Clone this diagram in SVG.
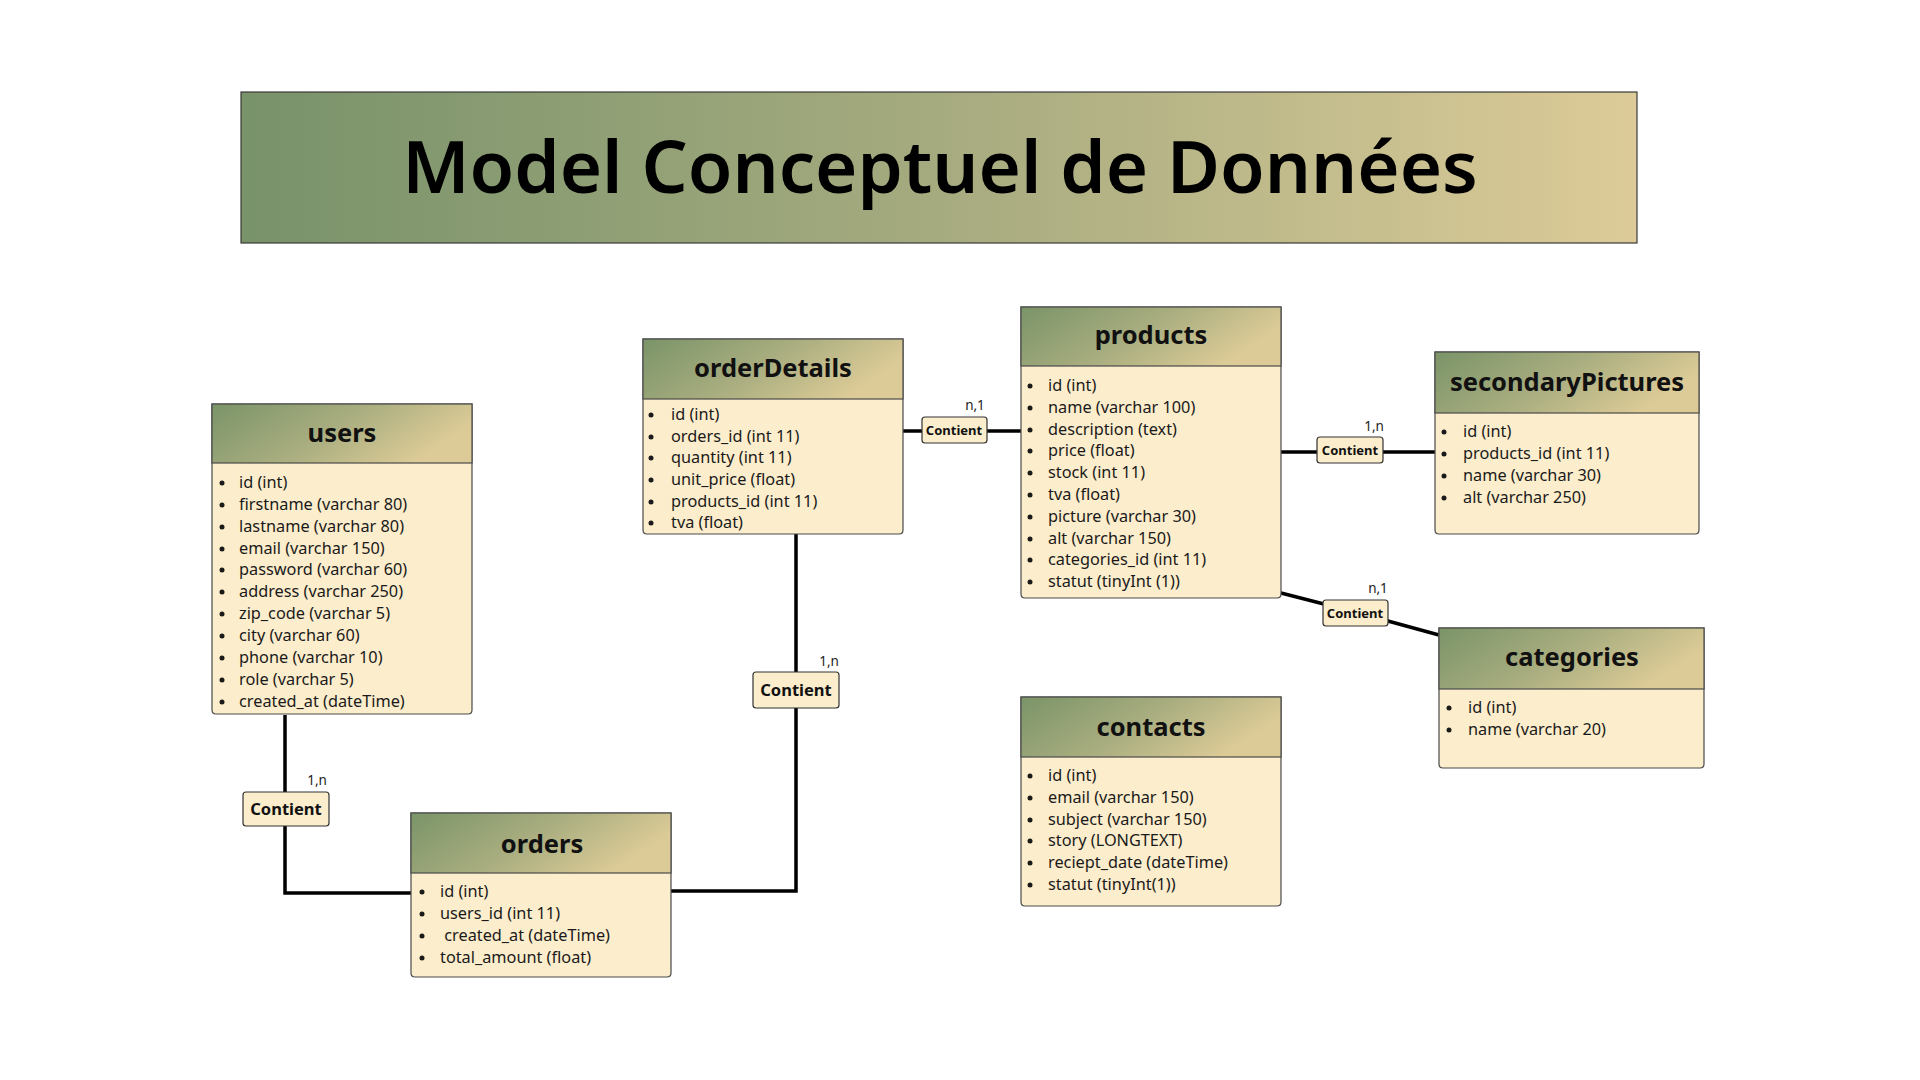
<svg xmlns="http://www.w3.org/2000/svg" width="1920" height="1080" viewBox="0 0 1920 1080">
<defs>
<linearGradient id="hdr" x1="0" y1="0" x2="1" y2="0.35">
<stop offset="0" stop-color="#7a9468"/>
<stop offset="0.55" stop-color="#aaae80"/>
<stop offset="1" stop-color="#dccb97"/>
</linearGradient>
<linearGradient id="ban" x1="0" y1="0" x2="1" y2="0">
<stop offset="0" stop-color="#78926a"/>
<stop offset="0.5" stop-color="#a6ab7f"/>
<stop offset="1" stop-color="#dccb98"/>
</linearGradient>
<style>
.body{fill:#fcedcc;stroke:#4a4a4a;stroke-width:1.2}
.hd{fill:url(#hdr);stroke:#4a4a4a;stroke-width:1.2}
.ht{font-family:"Noto Sans",sans-serif;font-weight:700;font-size:25.5px;fill:#111;text-anchor:middle}
.it{font-family:"Noto Sans",sans-serif;font-size:16.3px;fill:#1a1a1a}
.bu{fill:#1a1a1a}
.cb{fill:#fcedcc;stroke:#333;stroke-width:1.2}
.ct{font-family:"Noto Sans",sans-serif;font-weight:700;font-size:13px;fill:#111;text-anchor:middle}
.ctl{font-family:"Noto Sans",sans-serif;font-weight:700;font-size:16.5px;fill:#111;text-anchor:middle}
.lb{font-family:"Noto Sans",sans-serif;font-size:13.5px;fill:#222;text-anchor:middle}
.ln{fill:none;stroke:#000;stroke-width:3.5}
</style>
</defs>
<rect width="1920" height="1080" fill="#ffffff"/>

<g id="title">
<rect x="241" y="92" width="1396" height="151" fill="url(#ban)" stroke="#3a3a3a" stroke-width="1.2"/>
<text x="940" y="193" font-family="'Noto Sans',sans-serif" font-weight="600" font-size="72.5" fill="#000" text-anchor="middle">Model Conceptuel de Données</text>
</g>

<g id="connectors">
<path class="ln" d="M285 715 V893 H411"/>
<path class="ln" d="M671 891 H796 V534"/>
<path class="ln" d="M903 431 H1021"/>
<path class="ln" d="M1281 452 H1435"/>
<path class="ln" d="M1281 593 L1355 612 L1439 635"/>
</g>

<g id="users">
<path class="body" d="M212 404 H472 V710 Q472 714 468 714 H216 Q212 714 212 710 Z"/>
<rect class="hd" x="212" y="404" width="260" height="59"/>
<text class="ht" x="342" y="442">users</text>
<g class="bu"><circle cx="222" cy="483" r="2.5"/><circle cx="222" cy="505" r="2.5"/><circle cx="222" cy="527" r="2.5"/><circle cx="222" cy="549" r="2.5"/><circle cx="222" cy="570" r="2.5"/><circle cx="222" cy="592" r="2.5"/><circle cx="222" cy="614" r="2.5"/><circle cx="222" cy="636" r="2.5"/><circle cx="222" cy="658" r="2.5"/><circle cx="222" cy="680" r="2.5"/><circle cx="222" cy="702" r="2.5"/></g>
<text class="it" x="239" y="488">id (int)</text>
<text class="it" x="239" y="510">firstname (varchar 80)</text>
<text class="it" x="239" y="532">lastname (varchar 80)</text>
<text class="it" x="239" y="554">email (varchar 150)</text>
<text class="it" x="239" y="575">password (varchar 60)</text>
<text class="it" x="239" y="597">address (varchar 250)</text>
<text class="it" x="239" y="619">zip_code (varchar 5)</text>
<text class="it" x="239" y="641">city (varchar 60)</text>
<text class="it" x="239" y="663">phone (varchar 10)</text>
<text class="it" x="239" y="685">role (varchar 5)</text>
<text class="it" x="239" y="707">created_at (dateTime)</text>
</g>

<g id="orderDetails">
<path class="body" d="M643 339 H903 V530 Q903 534 899 534 H647 Q643 534 643 530 Z"/>
<rect class="hd" x="643" y="339" width="260" height="60"/>
<text class="ht" x="773" y="377">orderDetails</text>
<g class="bu"><circle cx="651" cy="415" r="2.5"/><circle cx="651" cy="437" r="2.5"/><circle cx="651" cy="458" r="2.5"/><circle cx="651" cy="480" r="2.5"/><circle cx="651" cy="502" r="2.5"/><circle cx="651" cy="523" r="2.5"/></g>
<text class="it" x="671" y="420">id (int)</text>
<text class="it" x="671" y="442">orders_id (int 11)</text>
<text class="it" x="671" y="463">quantity (int 11)</text>
<text class="it" x="671" y="485">unit_price (float)</text>
<text class="it" x="671" y="507">products_id (int 11)</text>
<text class="it" x="671" y="528">tva (float)</text>
</g>

<g id="products">
<path class="body" d="M1021 307 H1281 V594 Q1281 598 1277 598 H1025 Q1021 598 1021 594 Z"/>
<rect class="hd" x="1021" y="307" width="260" height="59"/>
<text class="ht" x="1151" y="344">products</text>
<g class="bu"><circle cx="1030" cy="386" r="2.5"/><circle cx="1030" cy="408" r="2.5"/><circle cx="1030" cy="430" r="2.5"/><circle cx="1030" cy="451" r="2.5"/><circle cx="1030" cy="473" r="2.5"/><circle cx="1030" cy="495" r="2.5"/><circle cx="1030" cy="517" r="2.5"/><circle cx="1030" cy="539" r="2.5"/><circle cx="1030" cy="560" r="2.5"/><circle cx="1030" cy="582" r="2.5"/></g>
<text class="it" x="1048" y="391">id (int)</text>
<text class="it" x="1048" y="413">name (varchar 100)</text>
<text class="it" x="1048" y="435">description (text)</text>
<text class="it" x="1048" y="456">price (float)</text>
<text class="it" x="1048" y="478">stock (int 11)</text>
<text class="it" x="1048" y="500">tva (float)</text>
<text class="it" x="1048" y="522">picture (varchar 30)</text>
<text class="it" x="1048" y="544">alt (varchar 150)</text>
<text class="it" x="1048" y="565">categories_id (int 11)</text>
<text class="it" x="1048" y="587">statut (tinyInt (1))</text>
</g>

<g id="secondaryPictures">
<path class="body" d="M1435 352 H1699 V530 Q1699 534 1695 534 H1439 Q1435 534 1435 530 Z"/>
<rect class="hd" x="1435" y="352" width="264" height="61"/>
<text class="ht" x="1567" y="391">secondaryPictures</text>
<g class="bu"><circle cx="1444" cy="432" r="2.5"/><circle cx="1444" cy="454" r="2.5"/><circle cx="1444" cy="476" r="2.5"/><circle cx="1444" cy="498" r="2.5"/></g>
<text class="it" x="1463" y="437">id (int)</text>
<text class="it" x="1463" y="459">products_id (int 11)</text>
<text class="it" x="1463" y="481">name (varchar 30)</text>
<text class="it" x="1463" y="503">alt (varchar 250)</text>
</g>

<g id="categories">
<path class="body" d="M1439 628 H1704 V764 Q1704 768 1700 768 H1443 Q1439 768 1439 764 Z"/>
<rect class="hd" x="1439" y="628" width="265" height="61"/>
<text class="ht" x="1572" y="666">categories</text>
<g class="bu"><circle cx="1449" cy="708" r="2.5"/><circle cx="1449" cy="730" r="2.5"/></g>
<text class="it" x="1468" y="713">id (int)</text>
<text class="it" x="1468" y="735">name (varchar 20)</text>
</g>

<g id="orders">
<path class="body" d="M411 813 H671 V973 Q671 977 667 977 H415 Q411 977 411 973 Z"/>
<rect class="hd" x="411" y="813" width="260" height="60"/>
<text class="ht" x="542" y="853">orders</text>
<g class="bu"><circle cx="422" cy="892" r="2.5"/><circle cx="422" cy="914" r="2.5"/><circle cx="422" cy="936" r="2.5"/><circle cx="422" cy="958" r="2.5"/></g>
<text class="it" x="440" y="897">id (int)</text>
<text class="it" x="440" y="919">users_id (int 11)</text>
<text class="it" x="440" y="941" xml:space="preserve"> created_at (dateTime)</text>
<text class="it" x="440" y="963">total_amount (float)</text>
</g>

<g id="contacts">
<path class="body" d="M1021 697 H1281 V902 Q1281 906 1277 906 H1025 Q1021 906 1021 902 Z"/>
<rect class="hd" x="1021" y="697" width="260" height="60"/>
<text class="ht" x="1151" y="736">contacts</text>
<g class="bu"><circle cx="1030" cy="776" r="2.5"/><circle cx="1030" cy="798" r="2.5"/><circle cx="1030" cy="820" r="2.5"/><circle cx="1030" cy="841" r="2.5"/><circle cx="1030" cy="863" r="2.5"/><circle cx="1030" cy="885" r="2.5"/></g>
<text class="it" x="1048" y="781">id (int)</text>
<text class="it" x="1048" y="803">email (varchar 150)</text>
<text class="it" x="1048" y="825">subject (varchar 150)</text>
<text class="it" x="1048" y="846">story (LONGTEXT)</text>
<text class="it" x="1048" y="868">reciept_date (dateTime)</text>
<text class="it" x="1048" y="890">statut (tinyInt(1))</text>
</g>

<g id="rel-users-orders">
<rect class="cb" x="243" y="792" width="86" height="34" rx="3"/>
<text class="ctl" x="286" y="815">Contient</text>
<text class="lb" x="317" y="785" font-size="14">1,n</text>
</g>
<g id="rel-orders-orderDetails">
<rect class="cb" x="753" y="672" width="86" height="36" rx="3"/>
<text class="ctl" x="796" y="696">Contient</text>
<text class="lb" x="829" y="666" font-size="14">1,n</text>
</g>
<g id="rel-orderDetails-products">
<rect class="cb" x="922" y="417" width="65" height="26" rx="3"/>
<text class="ct" x="954" y="435">Contient</text>
<text class="lb" x="975" y="410">n,1</text>
</g>
<g id="rel-products-secondaryPictures">
<rect class="cb" x="1317" y="437" width="66" height="26" rx="3"/>
<text class="ct" x="1350" y="455">Contient</text>
<text class="lb" x="1374" y="431">1,n</text>
</g>
<g id="rel-products-categories">
<rect class="cb" x="1323" y="600" width="65" height="26" rx="3"/>
<text class="ct" x="1355" y="618">Contient</text>
<text class="lb" x="1378" y="593">n,1</text>
</g>
</svg>
